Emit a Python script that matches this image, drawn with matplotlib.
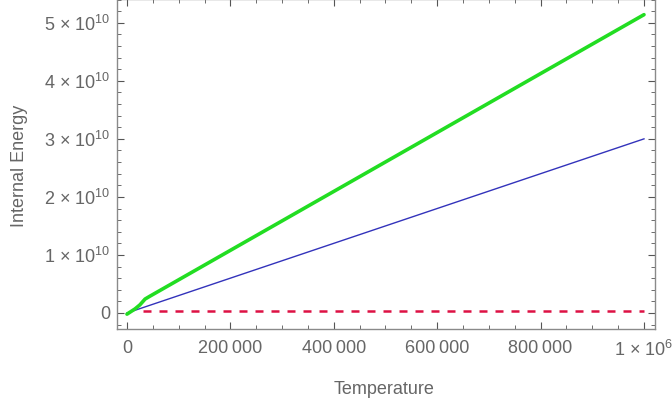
import numpy as np
import matplotlib
matplotlib.use('Agg')
from matplotlib import pyplot as plt
from matplotlib.ticker import MultipleLocator, FuncFormatter

plt.rcParams['font.family'] = ['Liberation Sans', 'DejaVu Sans']
plt.rcParams['mathtext.fontset'] = 'custom'
plt.rcParams['mathtext.rm'] = 'Liberation Sans'
plt.rcParams['mathtext.it'] = 'Liberation Sans'

# total internal energy (green)
temp_total = [0, 15500, 25000, 35000, 44500, 1000000]
energy_total = [-0.02e10, 0.07e10, 0.14e10, 0.24e10, 0.29e10, 5.14e10]

# thermal part (blue)
temp_thermal = [0, 1000000]
energy_thermal = [0, 3.0e10]

# constant part (red, dashed)
temp_const = [31000, 1000000]
energy_const = [0.04e10, 0.04e10]

x_ticks = [0, 200000, 400000, 600000, 800000, 1000000]
y_ticks = [0, 1e10, 2e10, 3e10, 4e10, 5e10]

txt = '#666666'
frame = '#8a8a8a'
fs = 13

fig = plt.figure(figsize=(6.72, 4.04), dpi=100)
ax = fig.add_axes([117 / 672, 1 - 329 / 404, (655 - 117) / 672, 330 / 404])

ax.plot(temp_total, energy_total, color='#22dd22', lw=2.6, solid_capstyle='round', zorder=3)
ax.plot(temp_thermal, energy_thermal, color='#3333bb', lw=1.0, zorder=2)
ax.plot(temp_const, energy_const, color='#dd1144', lw=1.8, dashes=(3.2, 3.2), zorder=2)

ax.set_xlim(-19300, 1.0213e6)
ax.set_ylim(-0.276e10, 5.41e10)

ax.set_xticks(x_ticks)
ax.set_yticks(y_ticks)
ax.xaxis.set_minor_locator(MultipleLocator(50000))
ax.yaxis.set_minor_locator(MultipleLocator(0.2e10))


def fmt_x(v, pos):
    if v == 0:
        return '0'
    if v >= 1e6:
        return '1 \u00d7 10$^{6}$'
    s = '%d' % v
    return s[:-3] + '\u2009' + s[-3:]


def fmt_y(v, pos):
    if v == 0:
        return '0'
    return '%d \u00d7 10$^{10}$' % round(v / 1e10)


ax.xaxis.set_major_formatter(FuncFormatter(fmt_x))
ax.yaxis.set_major_formatter(FuncFormatter(fmt_y))

ax.tick_params(which='both', direction='in', top=True, right=True, color='#555555',
               labelcolor=txt, labelsize=fs)
ax.tick_params(which='major', length=5, width=0.8)
ax.tick_params(which='minor', length=3, width=0.6)
ax.tick_params(axis='x', pad=8)
ax.tick_params(axis='y', pad=5)

for s in ax.spines.values():
    s.set_color(frame)
    s.set_linewidth(1.0)

ax.set_xlabel('Temperature', color=txt, fontsize=fs)
ax.set_ylabel('Internal Energy', color=txt, fontsize=fs)
ax.xaxis.set_label_coords(0.496, -0.158)
ax.yaxis.set_label_coords(-0.165, 0.495)

fig.savefig('out.png', dpi=100)
